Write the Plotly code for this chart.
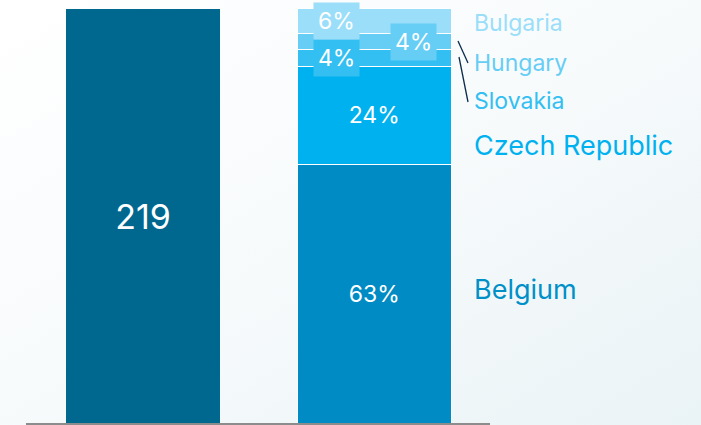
import base64
import plotly.graph_objects as go

# Data
total_label = "219"
total_value = [219]
countries = ["Belgium", "Czech Republic", "Slovakia", "Hungary", "Bulgaria"]
shares = [63, 24, 4, 4, 6]

seg_colors = ["#008BC4", "#00B1F0", "#33BFF2", "#66CDF5", "#9ADEF9"]
label_colors = ["#0090C8", "#00B1F0", "#33BFF2", "#66CDF5", "#9ADEF9"]
total_color = "#00688F"

W, H = 701, 425
FONT = "Inter"

# pixel geometry helpers (plot area fills the whole page)
base_px, top_px = 424, 9
def yrange(total):
    per_px = total / (base_px - top_px)
    return [-(H - base_px) * per_px, total + top_px * per_px]

share_total = sum(shares)

fig = go.Figure()

fig.add_trace(go.Bar(
    x=[142.5], y=total_value, width=154, marker_color=total_color,
    marker_line_width=0, text=[total_label], textposition="inside",
    insidetextanchor="middle", textfont=dict(family=FONT, size=34, color="white"),
    hoverinfo="skip", showlegend=False, yaxis="y",
))

for i, (c, v) in enumerate(zip(countries, shares)):
    big = i < 2
    fig.add_trace(go.Bar(
        x=[374.5], y=[v], width=154, name=c,
        marker=dict(color=seg_colors[i], line=dict(color="white", width=1.5)),
        text=[f"{v}%"] if big else None, textposition="inside" if big else "none",
        insidetextanchor="middle",
        textfont=dict(family=FONT, size=23, color="white"),
        hoverinfo="skip", showlegend=False, yaxis="y2",
    ))

# Boxed labels for the thin segments
cum = [sum(shares[:i]) + shares[i] / 2 for i in range(len(shares))]
box_x = {2: 336, 3: 413.5, 4: 336}
annotations = []
for i in (2, 3, 4):
    annotations.append(dict(
        x=box_x[i], y=cum[i], xref="x", yref="y2", text=f"{shares[i]}%",
        showarrow=False, bgcolor=seg_colors[i], borderpad=4,
        font=dict(family=FONT, size=23, color="white"),
        xanchor="center", yanchor="middle",
    ))

# Country names at the right
name_pos = {4: (23, 23), 3: (63, 23), 2: (101, 23), 1: (145, 27), 0: (289, 27)}
for i, (py, fs) in name_pos.items():
    annotations.append(dict(
        x=472, y=1 - py / H, xref="x", yref="paper", text=countries[i],
        showarrow=False, xanchor="left", yanchor="middle",
        font=dict(family=FONT, size=fs, color=label_colors[i]),
    ))

shapes = [
    dict(type="line", xref="x", yref="y", x0=26, x1=490, y0=0, y1=0,
         line=dict(color="#8C8C8C", width=2), layer="above"),
    dict(type="line", xref="x", yref="paper", x0=458, x1=468,
         y0=1 - 41 / H, y1=1 - 63 / H, line=dict(color="#0B2B4C", width=1.3)),
    dict(type="line", xref="x", yref="paper", x0=459, x1=468,
         y0=1 - 57 / H, y1=1 - 102 / H, line=dict(color="#0B2B4C", width=1.3)),
]

svg = (
    f'<svg xmlns="http://www.w3.org/2000/svg" width="{W}" height="{H}">'
    '<defs><linearGradient id="g" x1="0" y1="0" x2="1" y2="1">'
    '<stop offset="0" stop-color="#FFFFFF"/><stop offset="0.45" stop-color="#F8FBFC"/>'
    '<stop offset="1" stop-color="#EAF3F6"/></linearGradient></defs>'
    f'<rect width="{W}" height="{H}" fill="url(#g)"/></svg>'
)
bg_src = "data:image/svg+xml;base64," + base64.b64encode(svg.encode()).decode()

fig.update_layout(
    width=W, height=H, margin=dict(l=0, r=0, t=0, b=0),
    paper_bgcolor="white", plot_bgcolor="rgba(0,0,0,0)",
    barmode="stack", bargap=0,
    xaxis=dict(range=[0, W], visible=False, fixedrange=True),
    yaxis=dict(range=yrange(total_value[0]), visible=False, fixedrange=True),
    yaxis2=dict(range=yrange(share_total), visible=False, overlaying="y",
                fixedrange=True),
    annotations=annotations, shapes=shapes,
    images=[dict(source=bg_src, xref="paper", yref="paper", x=0, y=1,
                 sizex=1, sizey=1, sizing="stretch", layer="below")],
)

fig.write_html("out.html", config={"displayModeBar": False})
